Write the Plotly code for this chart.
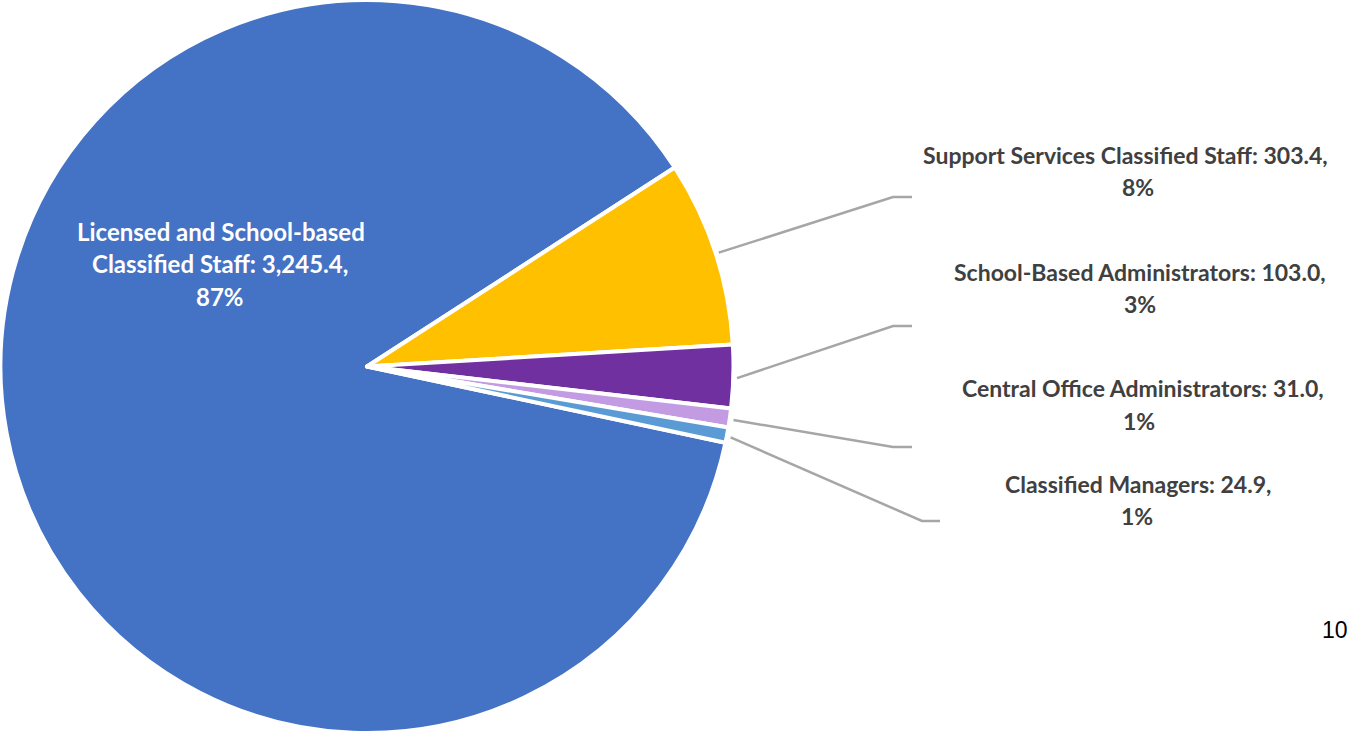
import math
import plotly.graph_objects as go

categories = ["Licensed and School-based Classified Staff", "Support Services Classified Staff",
              "School-Based Administrators", "Central Office Administrators", "Classified Managers"]
values = [3245.4, 303.4, 103.0, 31.0, 24.9]
value_text = ["3,245.4", "303.4", "103.0", "31.0", "24.9"]
pct_text = ["87%", "8%", "3%", "1%", "1%"]
colors = ["#4472C4", "#FFC000", "#7030A0", "#C39BE3", "#5B9BD5"]

W, H = 1352, 733
ROT = 102
dom_x = [0, 734 / W]

fig = go.Figure(go.Pie(
    labels=categories, values=values, sort=False, direction="clockwise", rotation=ROT,
    marker=dict(colors=colors, line=dict(color="white", width=4)),
    textinfo="none", hoverinfo="skip", showlegend=False,
    domain=dict(x=dom_x, y=[0, 1]),
))

FONT = "Lato"
FS = 23
LBL_COLOR = "#404040"


def text_line(txt, x, y, color, size=FS, family=FONT, bold=True):
    fig.add_annotation(x=x / W, y=1 - y / H, xref="paper", yref="paper", showarrow=False,
                       xanchor="center", yanchor="middle",
                       text=f"<b>{txt}</b>" if bold else txt,
                       font=dict(family=family, size=size, color=color))


# inside label for the big slice
text_line("Licensed and School-based", 221, 231, "white", size=24)
text_line(f"Classified Staff: {value_text[0]},", 220, 263, "white", size=24)
text_line(pct_text[0], 220, 296, "white", size=24)

# outside labels with leader lines
cx, cy, R = 367, 368, 366.5
total = sum(values)
line1_pos = [None, (1125, 155), (1140, 272), (1143, 388), (1138, 484)]
line2_pos = [None, (1138, 187), (1140, 304), (1139, 421), (1137, 516)]
elbow = [None, (893, 197, 912), (893, 326, 912), (893, 447, 912), (922, 521, 940)]
start = 0.0
for i, v in enumerate(values):
    span = v / total * 360
    mid = ROT + start + span / 2
    start += span
    if i == 0:
        continue
    a = math.radians(mid)
    sx = cx + R * 1.01 * math.sin(a)
    sy = cy - R * 1.01 * math.cos(a)
    ex, ey, hx = elbow[i]
    pts = [(sx, sy), (ex, ey), (hx, ey)]
    path = "M " + " L ".join(f"{x / W:.5f},{1 - y / H:.5f}" for x, y in pts)
    fig.add_shape(type="path", path=path, xref="paper", yref="paper",
                  line=dict(color="#A6A6A6", width=2.5))
    text_line(f"{categories[i]}: {value_text[i]},", *line1_pos[i], LBL_COLOR)
    text_line(pct_text[i], *line2_pos[i], LBL_COLOR)

text_line("10", 1335, 630, "black", size=23, family="Liberation Sans", bold=False)

fig.update_layout(width=W, height=H, margin=dict(l=0, r=0, t=0, b=0),
                  paper_bgcolor="white", plot_bgcolor="white")
fig.write_html("out.html")
